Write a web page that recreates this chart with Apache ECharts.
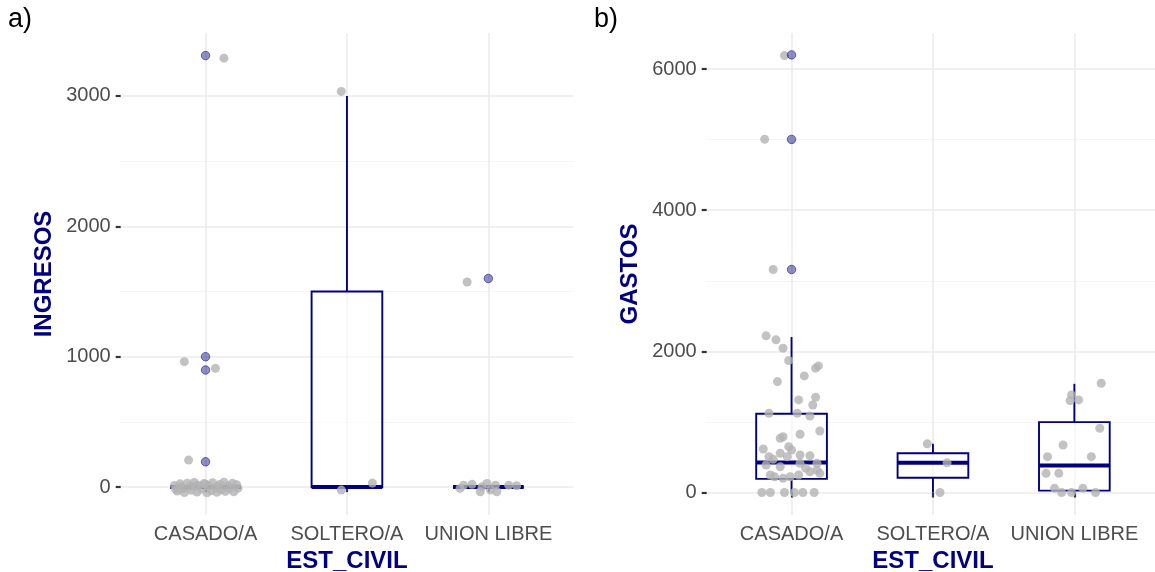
<!DOCTYPE html>
<html>
<head>
<meta charset="utf-8">
<script src="https://cdn.jsdelivr.net/npm/echarts@6/dist/echarts.min.js"></script>
<style>html,body{margin:0;padding:0;background:#fff}#c{width:1155px;height:572px}</style>
</head>
<body>
<div id="c"></div>
<script>
// ---------- DATA ----------
const categories = ['CASADO/A', 'SOLTERO/A', 'UNION LIBRE'];

// box stats per category: [lowerWhisker, Q1, median, Q3, upperWhisker]
const ingresosBox = [[0, 0, 0, 0, 0], [0, 0, 0, 1500, 3000], [0, 0, 0, 0, 0]];
const gastosBox = [[0, 194, 425, 1116, 2203], [0, 210, 421, 556, 690], [0, 28, 383, 997, 1540]];

// outliers [categoryIndex, value]
const ingresosOutliers = [[0, 3310], [0, 1000], [0, 898], [0, 194], [2, 1600]];
const gastosOutliers = [[0, 6200], [0, 5003], [0, 3160]];

// jittered observations [categoryIndex + jitter, value]
const ingresosPoints = [
  [0.13, 3290], [-0.15, 962], [0.07, 911], [-0.12, 207],
  [-0.22, 12], [-0.20, -30], [-0.18, 25], [-0.16, -10], [-0.15, -42], [-0.13, 30], [-0.11, 5],
  [-0.10, -25], [-0.08, 35], [-0.06, -38], [-0.05, 15], [-0.03, -15], [-0.01, 28], [0.01, -44],
  [0.02, 8], [0.04, -28], [0.05, 33], [0.07, -5], [0.08, -40], [0.10, 20], [0.11, -20], [0.13, 38],
  [0.14, -33], [0.16, 10], [0.17, -12], [0.19, 30], [0.20, -36], [0.22, 18], [0.23, -8],
  [-0.21, -18], [-0.07, 10], [0.09, 2], [0.00, 22], [-0.17, 0],
  [0.96, 3035], [0.96, -23], [1.18, 31],
  [1.85, 1573], [1.825, 15], [1.885, 21], [1.955, 2], [1.99, 28], [2.015, -23], [2.06, -36],
  [2.144, 15], [2.20, 10], [1.80, -10], [1.943, -36], [2.05, 15]
];
const gastosPoints = [
  [-0.05, 6190], [-0.19, 5005], [-0.13, 3160],
  [-0.18, 2220], [-0.11, 2163], [-0.06, 2045], [-0.02, 1870], [-0.10, 1572], [0.09, 1652],
  [0.17, 1762], [0.19, 1794], [0.05, 1312], [0.17, 1350], [0.15, 1241], [-0.16, 1123],
  [0.04, 1123], [0.13, 1085],
  [0.20, 872], [0.06, 826], [-0.06, 791], [-0.08, 769], [-0.02, 650], [0.00, 603], [-0.20, 617],
  [-0.08, 556], [-0.16, 508], [-0.13, 471], [0.13, 522], [0.06, 532],
  [-0.15, 248], [-0.12, 224], [-0.06, 201], [-0.01, 224], [0.05, 248], [0.10, 343], [0.13, 295],
  [0.18, 319], [0.20, 272], [-0.18, 390], [-0.03, 508], [0.06, 414], [0.18, 414], [-0.08, 366],
  [-0.21, 0], [-0.15, 0], [-0.05, 0], [0.02, 0], [0.08, 0], [0.16, 0],
  [0.96, 690], [1.10, 421], [1.05, 0],
  [2.19, 1549], [1.98, 1383], [1.97, 1302], [2.03, 1312], [2.18, 911], [1.92, 674], [1.81, 508],
  [2.12, 508], [1.80, 272], [1.89, 272], [1.86, 60], [1.91, 0], [1.98, 0], [2.06, 60], [2.15, 0]
];

const ingresosTicks = [0, 1000, 2000, 3000];
const ingresosMinor = [500, 1500, 2500];
const gastosTicks = [0, 2000, 4000, 6000];
const gastosMinor = [1000, 3000, 5000];

// ---------- STYLE ----------
const NAVY = '#000080';
const FONT = 'Liberation Sans';
const GRID_MAJOR = '#ebebeb';
const GRID_MINOR = '#f4f4f4';

function boxRender(params, api) {
  const c = api.value(0);
  const lo = api.value(1), q1 = api.value(2), med = api.value(3), q3 = api.value(4), hi = api.value(5);
  const bl = api.coord([c - 0.25, q1]);
  const tr = api.coord([c + 0.25, q3]);
  const pLo = api.coord([c, lo]);
  const pHi = api.coord([c, hi]);
  const mL = api.coord([c - 0.25, med]);
  const mR = api.coord([c + 0.25, med]);
  const ls = { stroke: NAVY, lineWidth: 1.9, fill: null };
  return {
    type: 'group',
    children: [
      { type: 'line', shape: { x1: pLo[0], y1: pLo[1], x2: pLo[0], y2: bl[1] }, style: ls },
      { type: 'line', shape: { x1: pHi[0], y1: pHi[1], x2: pHi[0], y2: tr[1] }, style: ls },
      { type: 'rect', shape: { x: bl[0], y: tr[1], width: tr[0] - bl[0], height: bl[1] - tr[1] },
        style: { fill: 'rgba(255,255,255,0.5)', stroke: NAVY, lineWidth: 1.9 } },
      { type: 'line', shape: { x1: mL[0], y1: mL[1], x2: mR[0], y2: mR[1] },
        style: { stroke: NAVY, lineWidth: 4 } }
    ]
  };
}

function xAxisFor(gi) {
  return {
    type: 'value', gridIndex: gi, min: -0.6, max: 2.6, position: 'bottom',
    axisLine: { show: false },
    axisTick: { show: true, customValues: [0, 1, 2], length: 5, lineStyle: { color: '#333', width: 2.2 } },
    axisLabel: { customValues: [0, 1, 2], formatter: v => categories[Math.round(v)] || '',
      color: '#4d4d4d', fontSize: 20, fontFamily: FONT, margin: 9 },
    splitLine: { show: true, lineStyle: { color: GRID_MAJOR, width: 1.6 } },
    name: 'EST_CIVIL', nameLocation: 'middle', nameGap: 33,
    nameTextStyle: { color: NAVY, fontSize: 24, fontWeight: 'bold', fontFamily: FONT, lineHeight: 24 }
  };
}
function yAxisFor(gi, min, max, ticks, name) {
  return {
    type: 'value', gridIndex: gi, min: min, max: max, position: 'left', offset: 0,
    axisLine: { show: false },
    axisTick: { show: true, customValues: ticks, length: 5, lineStyle: { color: '#333', width: 2.2 } },
    axisLabel: { customValues: ticks, formatter: v => String(v), color: '#4d4d4d', fontSize: 20, fontFamily: FONT, margin: 10 },
    splitLine: { show: true, lineStyle: { color: GRID_MAJOR, width: 1.6 } },
    name: name, nameLocation: 'middle', nameGap: 64, nameRotate: 90,
    nameTextStyle: { color: NAVY, fontSize: 24, fontWeight: 'bold', fontFamily: FONT }
  };
}
function minorAxisFor(gi, min, max, ticks) {
  return {
    type: 'value', gridIndex: gi, min: min, max: max, position: 'left', offset: 0,
    axisLine: { show: false },
    axisTick: { show: false, customValues: ticks },
    axisLabel: { show: false, customValues: ticks },
    splitLine: { show: true, lineStyle: { color: GRID_MINOR, width: 1 } }
  };
}

const A_MIN = -214, A_MAX = 3483;
const B_MIN = -318, B_MAX = 6510;

const gray = { color: '#b3b3b3' };
const blue = { color: 'rgba(0,0,128,0.55)', borderColor: 'rgba(0,0,128,0.65)', borderWidth: 1 };

const option = {
  animation: false,
  backgroundColor: '#fff',
  grid: [
    { left: 120.7, width: 452.5, top: 33, height: 482, containLabel: false, outerBoundsMode: 'none' },
    { left: 706.7, width: 452.5, top: 33, height: 482, containLabel: false, outerBoundsMode: 'none' }
  ],
  xAxis: [xAxisFor(0), xAxisFor(1)],
  yAxis: [
    minorAxisFor(0, A_MIN, A_MAX, ingresosMinor),
    minorAxisFor(1, B_MIN, B_MAX, gastosMinor),
    yAxisFor(0, A_MIN, A_MAX, ingresosTicks, 'INGRESOS'),
    yAxisFor(1, B_MIN, B_MAX, gastosTicks, 'GASTOS')
  ],
  graphic: [
    { type: 'text', left: 8, top: 6, style: { text: 'a)', font: '27px "Liberation Sans"', fill: '#000' } },
    { type: 'text', left: 594, top: 6, style: { text: 'b)', font: '27px "Liberation Sans"', fill: '#000' } }
  ],
  series: [
    { type: 'scatter', xAxisIndex: 0, yAxisIndex: 2, data: ingresosPoints, symbolSize: 9, itemStyle: gray },
    { type: 'custom', xAxisIndex: 0, yAxisIndex: 2, renderItem: boxRender,
      encode: { x: 0, y: [1, 2, 3, 4, 5] },
      data: ingresosBox.map((s, i) => [i].concat(s)) },
    { type: 'scatter', xAxisIndex: 0, yAxisIndex: 2, data: ingresosOutliers, symbolSize: 8.5, itemStyle: blue, z: 3 },
    { type: 'scatter', xAxisIndex: 1, yAxisIndex: 3, data: gastosPoints, symbolSize: 9, itemStyle: gray },
    { type: 'custom', xAxisIndex: 1, yAxisIndex: 3, renderItem: boxRender,
      encode: { x: 0, y: [1, 2, 3, 4, 5] },
      data: gastosBox.map((s, i) => [i].concat(s)) },
    { type: 'scatter', xAxisIndex: 1, yAxisIndex: 3, data: gastosOutliers, symbolSize: 8.5, itemStyle: blue, z: 3 }
  ]
};

const chart = echarts.init(document.getElementById('c'), null, { renderer: 'canvas' });
chart.setOption(option);
</script>
</body>
</html>
